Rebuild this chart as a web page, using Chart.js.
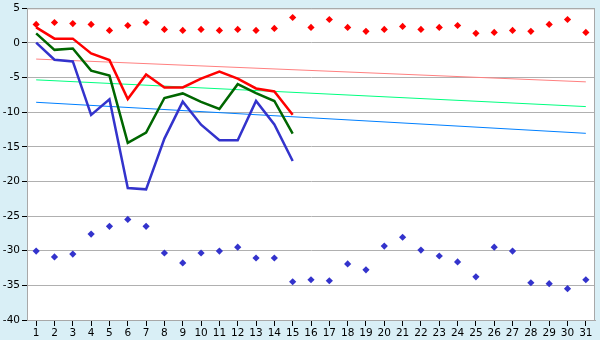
<!DOCTYPE html>
<html>
<head>
<meta charset="utf-8">
<script src="https://cdn.jsdelivr.net/npm/chart.js@4.4.1/dist/chart.umd.min.js"></script>
<style>
html, body { margin: 0; padding: 0; background: #d9eff6; }
#wrap { width: 600px; height: 340px; }
</style>
</head>
<body>
<div id="wrap"><canvas id="chart1" width="600" height="340"></canvas></div>
<script>
// days of the month
const days = [1, 2, 3, 4, 5, 6, 7, 8, 9, 10, 11, 12, 13, 14, 15, 16,
  17, 18, 19, 20, 21, 22, 23, 24, 25, 26, 27, 28, 29, 30, 31];
const lineDays = [1, 2, 3, 4, 5, 6, 7, 8, 9, 10, 11, 12, 13, 14, 15];
const yTicks = [5, 0, -5, -10, -15, -20, -25, -30, -35, -40];

// lines (days 1-15)
const redLine = [2.24, 0.62, 0.62, -1.52, -2.48, -8.1, -4.57, -6.43, -6.43, -5.14, -4.14, -5.14, -6.57, -7.0, -10.38];
const greenLine = [1.38, -1.0, -0.81, -4.0, -4.71, -14.43, -12.95, -7.95, -7.29, -8.52, -9.52, -5.95, -7.24, -8.38, -13.1];
const blueLine = [0.05, -2.43, -2.67, -10.38, -8.14, -20.95, -21.14, -13.81, -8.48, -11.81, -14.05, -14.05, -8.38, -11.76, -17.05];

// scattered marks (days 1-31)
const redDots = [2.67, 2.95, 2.8, 2.67, 1.8, 2.52, 2.95, 1.95, 1.8, 1.95, 1.8, 1.95, 1.8, 2.1, 3.67, 2.24,
  3.38, 2.24, 1.67, 1.95, 2.38, 1.95, 2.24, 2.52, 1.38, 1.52, 1.8, 1.67, 2.67, 3.38, 1.52];
const blueDots = [-30.05, -30.9, -30.48, -27.6, -26.48, -25.48, -26.48, -30.33, -31.76, -30.33, -30.05, -29.48, -31.05, -31.05, -34.48, -34.19,
  -34.33, -31.9, -32.76, -29.33, -28.05, -29.9, -30.76, -31.62, -33.76, -29.48, -30.05, -34.62, -34.76, -35.48, -34.19];

// trend lines, start (day 1) and end (day 31)
const trendDays = [1, 31];
const redTrend = [-2.33, -5.62];
const greenTrend = [-5.33, -9.19];
const blueTrend = [-8.57, -13.05];

function pts(xs, ys) {
  return xs.map((x, i) => ({ x: x, y: ys[i] }));
}

const frame = {
  id: 'frame',
  beforeDraw(chart) {
    const c = chart.ctx, a = chart.chartArea;
    c.save();
    c.fillStyle = '#d9eff6';
    c.fillRect(0, 0, chart.width, chart.height);
    c.fillStyle = '#ffffff';
    c.fillRect(a.left, a.top, a.right - a.left, a.bottom - a.top);
    c.restore();
  },
  afterDraw(chart) {
    const c = chart.ctx, a = chart.chartArea;
    c.save();
    c.strokeStyle = '#a8a8a8';
    c.lineWidth = 1;
    c.strokeRect(a.left + 0.5, a.top + 0.5, a.right - a.left - 1, a.bottom - a.top);
    c.restore();
  }
};

const font = { family: 'DejaVu Sans', size: 10.5 };

new Chart(document.getElementById('chart1'), {
  type: 'line',
  data: {
    datasets: [
      { data: pts(lineDays, redLine), borderColor: '#ff0000', borderWidth: 2.5, pointRadius: 0, order: 1 },
      { data: pts(lineDays, greenLine), borderColor: '#006600', borderWidth: 2.5, pointRadius: 0, order: 2 },
      { data: pts(lineDays, blueLine), borderColor: '#3333cc', borderWidth: 2.5, pointRadius: 0, order: 3 },
      { data: pts(trendDays, redTrend), borderColor: '#ff8080', borderWidth: 1, pointRadius: 0, order: 4 },
      { data: pts(trendDays, greenTrend), borderColor: '#00ff80', borderWidth: 1, pointRadius: 0, order: 5 },
      { data: pts(trendDays, blueTrend), borderColor: '#0080ff', borderWidth: 1, pointRadius: 0, order: 6 },
      { data: pts(days, redDots), showLine: false, pointStyle: 'rectRot', pointRadius: 3.6,
        backgroundColor: '#ff0000', borderColor: '#ff0000', borderWidth: 0, order: 0 },
      { data: pts(days, blueDots), showLine: false, pointStyle: 'rectRot', pointRadius: 3.6,
        backgroundColor: '#3333cc', borderColor: '#3333cc', borderWidth: 0, order: 0 }
    ]
  },
  options: {
    responsive: false,
    animation: false,
    devicePixelRatio: 1,
    layout: { padding: { top: 5, right: 5, left: 0, bottom: 0 } },
    plugins: { legend: { display: false }, tooltip: { enabled: false } },
    scales: {
      x: {
        type: 'linear',
        min: 0.5,
        max: 31.5,
        afterBuildTicks: (s) => { s.ticks = days.map(v => ({ value: v })); },
        afterFit: (s) => { s.height = 20; },
        grid: { drawOnChartArea: false, drawTicks: true, tickLength: 6, color: '#000000' },
        border: { color: '#a8a8a8' },
        ticks: { autoSkip: false, maxRotation: 0, padding: 1, color: '#000000', font: font }
      },
      y: {
        min: -40,
        max: 5,
        afterBuildTicks: (s) => { s.ticks = yTicks.map(v => ({ value: v })); },
        afterFit: (s) => { s.width = 27; },
        grid: { color: '#b0b0b0', tickLength: 5, tickColor: '#000000' },
        border: { color: '#a8a8a8' },
        ticks: { padding: 2, color: '#000000', font: font }
      }
    }
  },
  plugins: [frame]
});
</script>
</body>
</html>
